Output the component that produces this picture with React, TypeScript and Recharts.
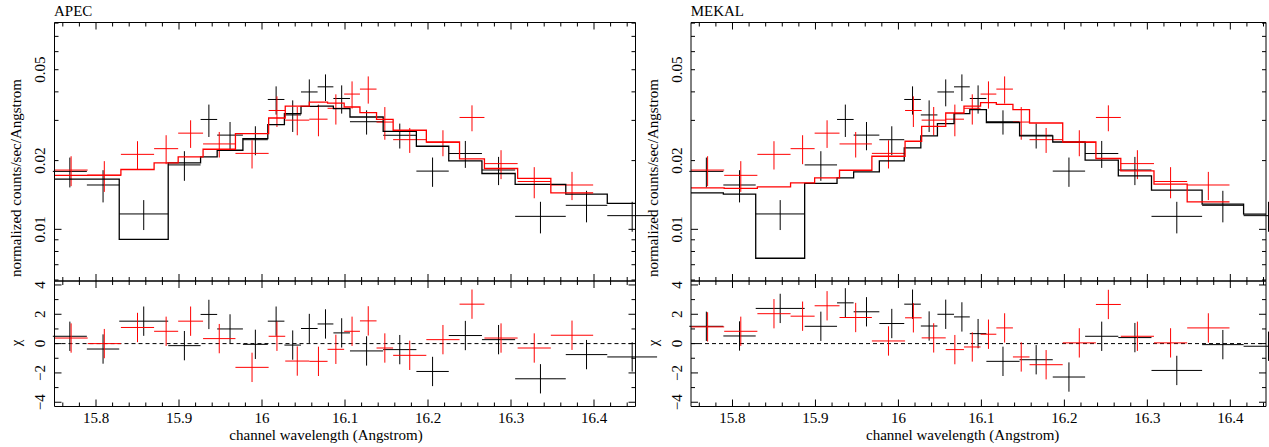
import React from "react";
import { ComposedChart, XAxis, YAxis, Line, Scatter, ErrorBar, ReferenceLine } from "recharts";

const FONT = "Liberation Serif, Times New Roman, Times, serif";

// channel bins (Angstrom) of the two spectra
const blackEdges = [15.748, 15.789, 15.828, 15.887, 15.926, 15.946, 15.977, 16.007, 16.027, 16.047, 16.067, 16.086, 16.106, 16.146, 16.186, 16.225, 16.265, 16.305, 16.366, 16.416, 16.476];
const redEdges = [15.75, 15.79, 15.83, 15.87, 15.899, 15.929, 15.968, 16.008, 16.028, 16.057, 16.079, 16.099, 16.118, 16.138, 16.158, 16.198, 16.238, 16.268, 16.308, 16.348, 16.399];

// normalized counts/sec/Angstrom and 1-sigma errors
const blackRate = [0.01794, 0.01564, 0.01168, 0.01915, 0.03028, 0.02586, 0.02469, 0.03704, 0.0317, 0.03996, 0.04208, 0.03741, 0.0296, 0.02582, 0.01799, 0.02148, 0.01819, 0.0114, 0.01274, 0.01148];
const blackErr = [0.00268, 0.00252, 0.00175, 0.00284, 0.0049, 0.00366, 0.00358, 0.00524, 0.00501, 0.00539, 0.00562, 0.00529, 0.0036, 0.00323, 0.00264, 0.0029, 0.00257, 0.0018, 0.00201, 0.00172];
const redRate = [0.01818, 0.01724, 0.0213, 0.02256, 0.02638, 0.02366, 0.02151, 0.03315, 0.03008, 0.03037, 0.03389, 0.03912, 0.04113, 0.0295, 0.0247, 0.02403, 0.0309, 0.0194, 0.0162, 0.01564];
const redErr = [0.00272, 0.00265, 0.00302, 0.00327, 0.00365, 0.00303, 0.00304, 0.00508, 0.00426, 0.00481, 0.00513, 0.00534, 0.00561, 0.00482, 0.00309, 0.00313, 0.00402, 0.00281, 0.00252, 0.00221];

// folded models
const apecBlackModel = [0.01659, 0.01659, 0.00904, 0.01954, 0.02076, 0.0222, 0.02498, 0.02876, 0.03212, 0.03457, 0.03467, 0.03378, 0.03104, 0.02688, 0.02312, 0.01994, 0.01756, 0.01573, 0.01426, 0.01299];
const apecRedModel = [0.01722, 0.01727, 0.01828, 0.01954, 0.02076, 0.02243, 0.02627, 0.03073, 0.03467, 0.0361, 0.03573, 0.03433, 0.03245, 0.03033, 0.02716, 0.02413, 0.02035, 0.01847, 0.01671, 0.01445];
const mekalBlackModel = [0.01445, 0.01426, 0.00747, 0.01589, 0.0168, 0.01785, 0.01994, 0.02273, 0.02564, 0.02905, 0.03212, 0.03344, 0.02934, 0.02564, 0.02413, 0.02008, 0.01715, 0.01485, 0.0129, 0.01166];
const mekalRedModel = [0.01519, 0.0151, 0.01535, 0.01598, 0.0168, 0.01815, 0.0209, 0.02431, 0.02827, 0.03232, 0.03467, 0.03587, 0.03527, 0.03344, 0.02922, 0.02413, 0.02043, 0.01803, 0.01578, 0.0132];

// residuals (chi)
const apecBlackChi = [0.5, -0.37, 1.53, -0.14, 1.99, 1.0, -0.05, 1.53, -0.1, 1.03, 1.34, 0.73, -0.5, -0.41, -1.9, 0.55, 0.27, -2.4, -0.75, -0.91];
const apecRedChi = [0.38, 0.0, 1.1, 0.84, 1.53, 0.34, -1.62, 0.5, -1.19, -1.21, -0.39, 0.84, 1.55, -0.3, -0.8, 0.27, 2.69, 0.38, -0.3, 0.57];
const mekalBlackChi = [1.18, 0.52, 2.4, 1.18, 2.78, 2.17, 1.37, 2.69, 1.2, 2.0, 1.82, 0.68, -1.21, -1.1, -2.28, 0.5, 0.41, -1.83, -0.07, -0.18];
const mekalRedChi = [1.14, 0.84, 2.04, 1.87, 2.58, 1.78, 0.18, 1.76, 0.39, -0.41, -0.23, 0.64, 1.07, -0.91, -1.44, 0.05, 2.67, 0.5, 0.05, 1.07];

// ticks
const xTicks = [15.76, 15.78, 15.8, 15.82, 15.84, 15.86, 15.88, 15.9, 15.92, 15.94, 15.96, 15.98, 16, 16.02, 16.04, 16.06, 16.08, 16.1, 16.12, 16.14, 16.16, 16.18, 16.2, 16.22, 16.24, 16.26, 16.28, 16.3, 16.32, 16.34, 16.36, 16.38, 16.4, 16.42, 16.44];
const xLabels = [15.8, 15.9, 16, 16.1, 16.2, 16.3, 16.4];
const rateTicks = [0.006, 0.007, 0.008, 0.009, 0.01, 0.02, 0.03, 0.04, 0.05, 0.06, 0.07, 0.08];
const rateLabels = [0.01, 0.02, 0.05];
const rateMajor = [0.01];
const chiTicks = [-4, -3, -2, -1, 0, 1, 2, 3, 4];
const chiLabels = [-4, -2, 0, 2, 4];

const W = 1269;
const H = 447;
const TOP = 22.5;
const MID = 281;
const BOT = 406.5;

const crosses = (edges: number[], vals: number[], errs: number[] | number) =>
  vals.map((v, i) => ({
    x: (edges[i] + edges[i + 1]) / 2,
    xe: (edges[i + 1] - edges[i]) / 2,
    y: v,
    ye: typeof errs === "number" ? errs : errs[i],
  }));

const steps = (edges: number[], model: number[]) => [
  ...model.map((m, i) => ({ x: edges[i], y: m })),
  { x: edges[edges.length - 1], y: model[model.length - 1] },
];

const isOn = (list: number[], v: number) => list.some((t) => Math.abs(t - v) < 1e-9);
const fmtChi = (v: number) => (v < 0 ? "\u2212" + Math.abs(v) : String(v));

const xTick = (dir: number, withLabel: boolean) => (p: any) => {
  const v = p.payload.value;
  const major = isOn(xLabels, v);
  return (
    <g>
      <line x1={p.x} x2={p.x} y1={p.y} y2={p.y + dir * (major ? 7 : 4)} stroke="#000" />
      {withLabel && major ? (
        <text x={p.x} y={p.y + 16} textAnchor="middle" fontSize={15} fontFamily={FONT} fill="#000">
          {String(Math.round(v * 10) / 10)}
        </text>
      ) : null}
    </g>
  );
};

const yTick = (dir: number, majors: number[], labels: number[] | null, fmt: (v: number) => string) => (p: any) => {
  const v = p.payload.value;
  const lx = p.x - 9;
  return (
    <g>
      <line x1={p.x} x2={p.x + dir * (isOn(majors, v) ? 7 : 4)} y1={p.y} y2={p.y} stroke="#000" />
      {labels && isOn(labels, v) ? (
        <text x={lx} y={p.y} transform={`rotate(-90 ${lx} ${p.y})`} textAnchor="middle" fontSize={15} fontFamily={FONT} fill="#000">
          {fmt(v)}
        </text>
      ) : null}
    </g>
  );
};

const noShape = () => <g />;
const abs: React.CSSProperties = { position: "absolute", left: 0, top: 0 };

function Panel({ left, right, xMax, blackModel, redModel, blackChi, redChi }: any) {
  // axes are 1px thick, so the margins give back 1px on each side
  const mr = W - right - 1;
  const ml = left - 1;
  const blackPts = crosses(blackEdges, blackRate, blackErr);
  const redPts = crosses(redEdges, redRate, redErr);
  const blackRes = crosses(blackEdges, blackChi, 1);
  const redRes = crosses(redEdges, redChi, 1);
  const xDomain = [15.75, xMax];
  const axisLine = { stroke: "#000", strokeWidth: 1 };
  const xCommon = { type: "number" as const, dataKey: "x", domain: xDomain, allowDataOverflow: true, ticks: xTicks, interval: 0, tickSize: 0, tickMargin: 0, height: 1, tickLine: false, axisLine };
  const yCommon = { type: "number" as const, dataKey: "y", allowDataOverflow: true, interval: 0, width: 1, tickSize: 0, tickMargin: 0, tickLine: false, axisLine };

  return (
    <>
      <div style={abs}>
        <ComposedChart width={W} height={H} margin={{ top: TOP - 1, left: ml, right: mr, bottom: H - MID - 1 }}>
          <XAxis xAxisId="b" orientation="bottom" {...xCommon} tick={xTick(-1, false)} />
          <XAxis xAxisId="t" orientation="top" {...xCommon} tick={xTick(1, false)} />
          <YAxis yAxisId="l" orientation="left" {...yCommon} scale="log" domain={[0.00594, 0.0805]} ticks={rateTicks} tick={yTick(1, rateMajor, rateLabels, (v) => String(v))} />
          <YAxis yAxisId="r" orientation="right" {...yCommon} scale="log" domain={[0.00594, 0.0805]} ticks={rateTicks} tick={yTick(-1, rateMajor, null, String)} />
          <Scatter xAxisId="b" yAxisId="l" data={blackPts} dataKey="y" shape={noShape} isAnimationActive={false}>
            <ErrorBar dataKey="xe" direction="x" width={0} stroke="#000" strokeWidth={1} />
            <ErrorBar dataKey="ye" direction="y" width={0} stroke="#000" strokeWidth={1} />
          </Scatter>
          <Scatter xAxisId="b" yAxisId="l" data={redPts} dataKey="y" shape={noShape} isAnimationActive={false}>
            <ErrorBar dataKey="xe" direction="x" width={0} stroke="#ff0000" strokeWidth={1} />
            <ErrorBar dataKey="ye" direction="y" width={0} stroke="#ff0000" strokeWidth={1} />
          </Scatter>
          <Line xAxisId="b" yAxisId="l" data={steps(blackEdges, blackModel)} dataKey="y" type="stepAfter" stroke="#000" strokeWidth={1.3} dot={false} activeDot={false} isAnimationActive={false} />
          <Line xAxisId="b" yAxisId="l" data={steps(redEdges, redModel)} dataKey="y" type="stepAfter" stroke="#ff0000" strokeWidth={1.3} dot={false} activeDot={false} isAnimationActive={false} />
        </ComposedChart>
      </div>
      <div style={abs}>
        <ComposedChart width={W} height={H} margin={{ top: MID - 1, left: ml, right: mr, bottom: H - BOT - 1 }}>
          <XAxis xAxisId="b" orientation="bottom" {...xCommon} tick={xTick(-1, true)} />
          <XAxis xAxisId="t" orientation="top" {...xCommon} tick={xTick(1, false)} />
          <YAxis yAxisId="l" orientation="left" {...yCommon} domain={[-4.29, 4.27]} ticks={chiTicks} tick={yTick(1, chiLabels, chiLabels, fmtChi)} />
          <YAxis yAxisId="r" orientation="right" {...yCommon} domain={[-4.29, 4.27]} ticks={chiTicks} tick={yTick(-1, chiLabels, null, fmtChi)} />
          <ReferenceLine xAxisId="b" yAxisId="l" y={0} stroke="#000" strokeWidth={1} strokeDasharray="4 3" />
          <Scatter xAxisId="b" yAxisId="l" data={blackRes} dataKey="y" shape={noShape} isAnimationActive={false}>
            <ErrorBar dataKey="xe" direction="x" width={0} stroke="#000" strokeWidth={1} />
            <ErrorBar dataKey="ye" direction="y" width={0} stroke="#000" strokeWidth={1} />
          </Scatter>
          <Scatter xAxisId="b" yAxisId="l" data={redRes} dataKey="y" shape={noShape} isAnimationActive={false}>
            <ErrorBar dataKey="xe" direction="x" width={0} stroke="#ff0000" strokeWidth={1} />
            <ErrorBar dataKey="ye" direction="y" width={0} stroke="#ff0000" strokeWidth={1} />
          </Scatter>
        </ComposedChart>
      </div>
    </>
  );
}

function Labels({ dx, title }: { dx: number; title: string }) {
  const t = { fontSize: 15, fontFamily: FONT, fill: "#000" };
  return (
    <g>
      <text x={54 + dx} y={16} {...t}>{title}</text>
      <text x={21 + dx} y={178} transform={`rotate(-90 ${21 + dx} 178)`} textAnchor="middle" {...t}>
        normalized counts/sec/Angstrom
      </text>
      <text x={21 + dx} y={343} transform={`rotate(-90 ${21 + dx} 343)`} textAnchor="middle" {...t}>χ</text>
      <text x={326 + dx} y={440} textAnchor="middle" {...t}>channel wavelength (Angstrom)</text>
    </g>
  );
}

export default function App() {
  return (
    <div style={{ position: "absolute", left: 0, top: 0, width: W, height: H, background: "#fff", overflow: "hidden" }}>
      <Panel left={54.5} right={635.5} xMax={16.45} blackModel={apecBlackModel} redModel={apecRedModel} blackChi={apecBlackChi} redChi={apecRedChi} />
      <Panel left={691} right={1266} xMax={16.443} blackModel={mekalBlackModel} redModel={mekalRedModel} blackChi={mekalBlackChi} redChi={mekalRedChi} />
      <svg width={W} height={H} style={{ ...abs, pointerEvents: "none" }}>
        <Labels dx={0} title="APEC" />
        <Labels dx={636.7} title="MEKAL" />
      </svg>
    </div>
  );
}
